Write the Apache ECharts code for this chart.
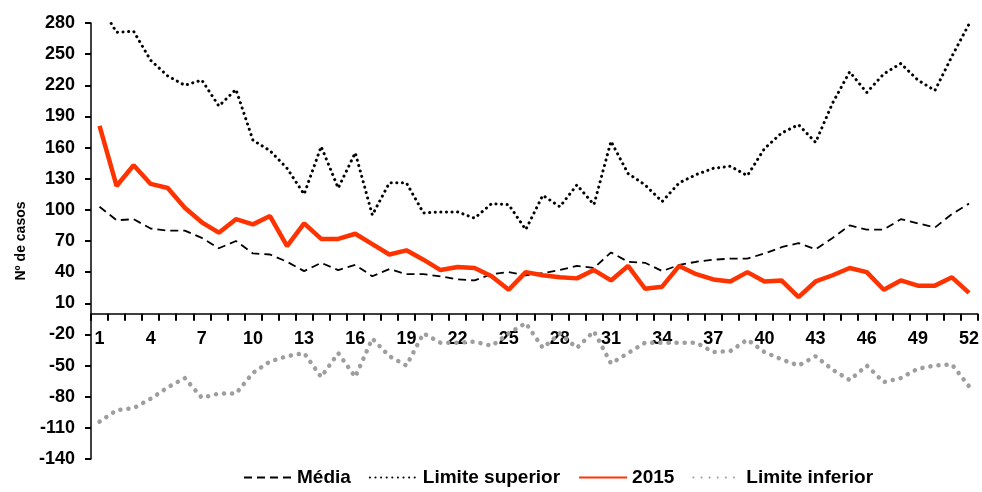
<!DOCTYPE html>
<html>
<head>
<meta charset="utf-8">
<script src="https://cdn.jsdelivr.net/npm/echarts@6/dist/echarts.min.js"></script>
<style>
  html, body { margin: 0; padding: 0; background: #fff; }
  #chart { width: 982px; height: 492px; }
</style>
</head>
<body>
<div id="chart"></div>
<script>
// semanas epidemiológicas
var semanas = ['1', '2', '3', '4', '5', '6', '7', '8', '9', '10', '11', '12', '13',
  '14', '15', '16', '17', '18', '19', '20', '21', '22', '23', '24', '25', '26',
  '27', '28', '29', '30', '31', '32', '33', '34', '35', '36', '37', '38', '39',
  '40', '41', '42', '43', '44', '45', '46', '47', '48', '49', '50', '51', '52']

var media = [103, 90, 91, 82, 80, 80, 73, 63, 70, 58, 57, 50, 41, 49, 42, 47, 36, 43,
  38, 38, 36, 33, 32, 38, 40, 37, 39, 42, 46, 44, 59, 50, 49, 41, 47, 50, 52, 53, 53,
  58, 64, 68, 62, 73, 85, 81, 81, 91, 87, 83, 96, 106]

var limiteSuperior = [298, 271, 272, 244, 229, 220, 225, 200, 216, 167, 157, 140, 115,
  161, 121, 155, 95, 126, 126, 97, 98, 98, 92, 106, 105, 81, 114, 103, 124, 105, 166,
  135, 124, 108, 126, 134, 140, 142, 133, 159, 174, 182, 165, 203, 233, 213, 231, 241,
  225, 215, 248, 279]

var casos2015 = [181, 123, 143, 125, 121, 102, 88, 78, 91, 86, 94, 65, 87, 72, 72, 77,
  67, 57, 61, 52, 42, 45, 44, 36, 23, 40, 37, 35, 34, 42, 32, 46, 24, 26, 46, 38, 33,
  31, 40, 31, 32, 16, 31, 37, 44, 40, 23, 32, 27, 27, 35, 20]

var limiteInferior = [-104, -93, -91, -82, -71, -62, -81, -77, -77, -57, -46, -41, -38,
  -61, -38, -61, -24, -41, -50, -19, -28, -28, -27, -31, -19, -9, -33, -19, -33, -17,
  -48, -38, -28, -28, -28, -28, -37, -36, -25, -37, -44, -50, -41, -54, -64, -50, -66,
  -62, -53, -50, -49, -70]

var fonte = 'Liberation Sans, Arial, sans-serif'
var yMin = -140
var yMax = 280
var gridTop = 23
var gridBottom = 33
var alturaGrid = 492 - gridTop - gridBottom
// o eixo x fica na linha do zero
var deslocZero = -alturaGrid * (0 - yMin) / (yMax - yMin)

var myChart = echarts.init(document.getElementById('chart'))

var option = {
  animation: false,
  tooltip: { show: false },
  grid: {
    left: 91,
    right: 1,
    top: gridTop,
    bottom: gridBottom
  },
  legend: {
    bottom: 0,
    left: 238,
    itemWidth: 48,
    itemHeight: 10,
    itemGap: 18,
    itemStyle: { opacity: 0 },
    textStyle: {
      fontFamily: fonte,
      fontWeight: 'bold',
      fontSize: 19,
      color: '#000'
    },
    data: ['Média', 'Limite superior', '2015', 'Limite inferior']
  },
  xAxis: {
    type: 'category',
    data: semanas,
    boundaryGap: true,
    offset: deslocZero,
    axisLine: {
      show: true,
      onZero: false,
      lineStyle: { color: '#000', width: 1.5 }
    },
    axisTick: {
      show: true,
      interval: 0,
      length: 7,
      lineStyle: { color: '#000', width: 2 }
    },
    axisLabel: {
      interval: 2,
      margin: 16,
      color: '#000',
      fontFamily: fonte,
      fontWeight: 'bold',
      fontSize: 18
    }
  },
  yAxis: {
    type: 'value',
    min: yMin,
    max: yMax,
    interval: 30,
    name: 'Nº de casos',
    nameLocation: 'middle',
    nameRotate: 90,
    nameGap: 63,
    nameTextStyle: {
      fontFamily: fonte,
      fontWeight: 'bold',
      fontSize: 14,
      color: '#000'
    },
    splitLine: { show: false },
    axisLine: {
      show: true,
      lineStyle: { color: '#000', width: 1.5 }
    },
    axisTick: {
      show: true,
      length: 6,
      lineStyle: { color: '#000', width: 2 }
    },
    axisLabel: {
      margin: 16,
      color: '#000',
      fontFamily: fonte,
      fontWeight: 'bold',
      fontSize: 18
    }
  },
  series: [
    {
      name: 'Média',
      type: 'line',
      data: media,
      symbol: 'none',
      lineStyle: { color: '#000', width: 1.8, type: [8, 5] },
      itemStyle: { color: '#000' }
    },
    {
      name: 'Limite superior',
      type: 'line',
      data: limiteSuperior,
      symbol: 'none',
      clip: true,
      lineStyle: { color: '#000', width: 3, type: [0.1, 5.5], cap: 'round' },
      itemStyle: { color: '#000' }
    },
    {
      name: '2015',
      type: 'line',
      data: casos2015,
      symbol: 'none',
      lineStyle: { color: '#ff3300', width: 4.5 },
      itemStyle: { color: '#ff3300' }
    },
    {
      name: 'Limite inferior',
      type: 'line',
      data: limiteInferior,
      symbol: 'none',
      lineStyle: { color: '#9e9e9e', width: 4.5, type: [0.1, 8], cap: 'round' },
      itemStyle: { color: '#9e9e9e' }
    }
  ]
}

myChart.setOption(option)
</script>
</body>
</html>
